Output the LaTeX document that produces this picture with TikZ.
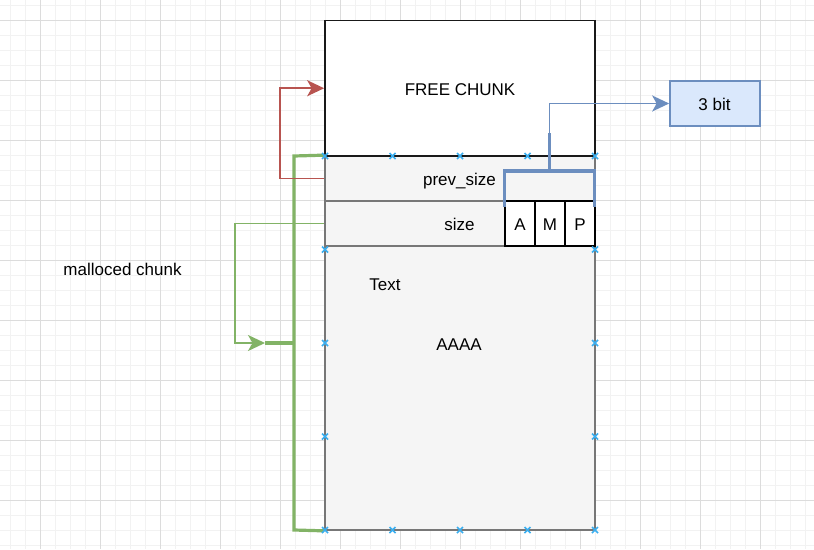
\documentclass[tikz,border=0pt]{standalone}
\usepackage{fontspec}
\setmainfont{Liberation Sans}
\usetikzlibrary{arrows.meta}
\definecolor{gridmaj}{HTML}{DCDCDC}
\definecolor{gridmin}{HTML}{F2F2F2}
\definecolor{boxgray}{HTML}{F5F5F5}
\definecolor{bordergray}{HTML}{777777}
\definecolor{bluel}{HTML}{6C8EBF}
\definecolor{bluef}{HTML}{DAE8FC}
\definecolor{greenl}{HTML}{82B366}
\definecolor{redl}{HTML}{B85450}
\definecolor{markc}{HTML}{3AAEEF}
\begin{document}
\begin{tikzpicture}[x=1pt,y=-1pt,
  lbl/.style={font=\fontsize{17}{20}\selectfont, anchor=base, inner sep=0pt},
  box/.style={draw, rectangle, inner sep=0pt, line width=1.7pt},
  graybox/.style={box, draw=bordergray, fill=boxgray},
  tip/.style={-{Stealth[length=17pt,width=16pt,inset=4.5pt]}},
  thinline/.style={line width=1.7pt},
  thickline/.style={line width=3.2pt},
  xmark/.style={markc, line width=1.5pt}
]
\useasboundingbox (0,0) rectangle (814,549);
% grid
\begin{scope}
\clip (0,0) rectangle (814,549);
\foreach \x in {10,25,...,814} \draw[gridmin, line width=1pt] (\x,0) -- (\x,549);
\foreach \y in {5,20,...,549} \draw[gridmin, line width=1pt] (0,\y) -- (814,\y);
\foreach \x in {40,100,...,814} \draw[gridmaj, line width=1pt] (\x,0) -- (\x,549);
\foreach \y in {20,80,...,549} \draw[gridmaj, line width=1pt] (0,\y) -- (814,\y);
\end{scope}

% boxes
\node[graybox, minimum width=270pt, minimum height=374pt] (big) at (460,343) {};
\node[graybox, minimum width=270pt, minimum height=45pt] (prev) at (460,178.5) {};
\node[graybox, minimum width=270pt, minimum height=45pt] (size) at (460,223.5) {};
\node[box, draw=black!90, fill=white, minimum width=270pt, minimum height=135.5pt] (free) at (460,88.25) {};
\node[box, draw=black, fill=white, minimum width=30pt, minimum height=45pt] (A) at (520,223.5) {};
\node[box, draw=black, fill=white, minimum width=30pt, minimum height=45pt] (M) at (550,223.5) {};
\node[box, draw=black, fill=white, minimum width=30pt, minimum height=45pt] (P) at (580,223.5) {};
\node[box, draw=bluel, fill=bluef, minimum width=90pt, minimum height=45pt] (bit3) at (715,103.5) {};

% blue bracket
\coordinate (bstub) at (549.5,133);
\draw[bluel, thickline] (504.5,206.7) -- (504.5,171) -- (594.5,171) -- (594.5,206.7);
\draw[bluel, thickline] (549.5,171) -- (bstub);
\draw[bluel, thinline, tip] (bstub) |- (bit3.west);

% green bracket
\coordinate (gstub) at (265,343);
\draw[greenl, thickline] (big.north west) -- (294,156) -- (294,530) -- (big.south west);
\draw[greenl, thickline] (294,343) -- (gstub);
\draw[greenl, thinline, tip] (size.west) -- (235,223.5) |- (gstub);

% red arrow
\draw[redl, thinline, tip] (prev.west) -- (280,178.5) |- (free.west);

% connection markers
\foreach \x in {325,392.5,460,527.5,595} {
  \draw[xmark] (\x-3,153) -- (\x+3,159) (\x-3,159) -- (\x+3,153);
  \draw[xmark] (\x-3,527) -- (\x+3,533) (\x-3,533) -- (\x+3,527);
}
\foreach \y in {249.5,343,436.5} {
  \draw[xmark] (322,\y-3) -- (328,\y+3) (322,\y+3) -- (328,\y-3);
  \draw[xmark] (592,\y-3) -- (598,\y+3) (592,\y+3) -- (598,\y-3);
}

% labels
\node[lbl] (tfree) at (460,95) {FREE CHUNK};
\node[lbl] (tprev) at (459.5,185) {prev\_size};
\node[lbl] (tsize) at (459.5,230.7) {size};
\node[lbl] (tA) at (A.center |- 0,230.7) {A};
\node[lbl] (tM) at (M.center |- 0,230.7) {M};
\node[lbl] (tP) at (P.center |- 0,230.7) {P};
\node[lbl] (ttext) at (385,290.7) {Text};
\node[lbl] (taaaa) at (459,350.7) {AAAA};
\node[lbl] (tmal) at (122.5,275) {malloced chunk};
\node[lbl] (tbit) at (714.5,110.7) {3 bit};
\end{tikzpicture}
\end{document}
